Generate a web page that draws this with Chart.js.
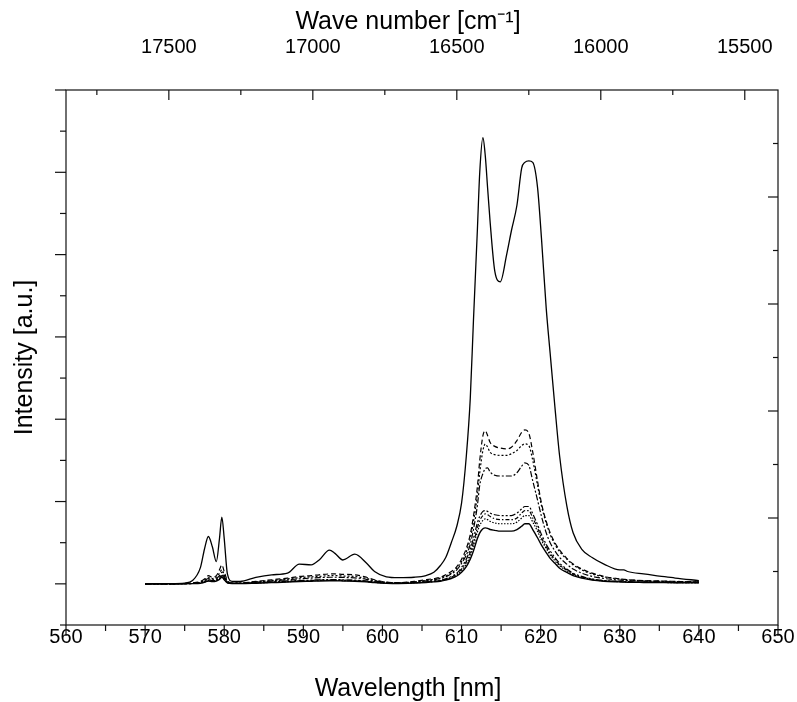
<!DOCTYPE html>
<html>
<head>
<meta charset="utf-8">
<script src="https://cdn.jsdelivr.net/npm/chart.js@4.4.1/dist/chart.umd.min.js"></script>
<style>
html,body{margin:0;padding:0;background:#fff;}
canvas{display:block;}
</style>
</head>
<body>
<canvas id="c" width="797" height="702"></canvas>
<script>
// ---- data ----
const wavelengths = [570,573,575,576,577,577.5,578,578.5,579,579.4,579.7,580,580.4,581,582,584,586,588,589.5,591,592,593.3,594,595,596.5,598,599,600.5,602,604,605.5,606.5,607.3,608,608.7,609.4,610,610.6,611.1,611.5,612,612.3,612.7,613,613.3,613.6,614.2,614.9,615.7,616.3,617,617.6,618,618.5,619,619.6,620.1,620.7,621.2,621.8,622.4,623.3,624.1,625.2,626.5,628,630,630.5,631,633,635,637,640];

const seriesS1 = [0,0.003,0.01,0.04,0.2,0.42,0.575,0.45,0.27,0.55,0.81,0.55,0.12,0.03,0.03,0.08,0.11,0.13,0.24,0.23,0.29,0.41,0.37,0.29,0.36,0.25,0.15,0.085,0.075,0.08,0.1,0.14,0.22,0.32,0.5,0.7,0.98,1.55,2.25,3.19,4.3,5.0,5.42,5.2,4.8,4.41,3.8,3.67,4.0,4.29,4.6,5.05,5.12,5.14,5.12,4.82,4.2,3.35,2.8,2.15,1.55,0.95,0.62,0.42,0.32,0.24,0.17,0.17,0.15,0.12,0.095,0.07,0.04];
const seriesD1 = [0,0,0.005,0.01,0.03,0.06,0.1,0.08,0.1,0.17,0.23,0.15,0.04,0.01,0.01,0.03,0.05,0.07,0.09,0.1,0.11,0.12,0.12,0.115,0.11,0.08,0.05,0.02,0.015,0.03,0.05,0.065,0.08,0.11,0.15,0.21,0.3,0.43,0.6,0.82,1.18,1.5,1.8,1.86,1.8,1.72,1.67,1.65,1.64,1.66,1.74,1.84,1.87,1.83,1.6,1.25,0.98,0.76,0.62,0.5,0.41,0.31,0.24,0.18,0.13,0.09,0.06,0.055,0.05,0.04,0.035,0.03,0.025];
const seriesD2 = [0,0,0.004,0.008,0.025,0.05,0.08,0.065,0.08,0.13,0.17,0.11,0.03,0.01,0.01,0.025,0.04,0.06,0.075,0.085,0.09,0.1,0.1,0.095,0.09,0.065,0.04,0.018,0.012,0.025,0.04,0.055,0.07,0.095,0.13,0.19,0.27,0.39,0.55,0.75,1.08,1.35,1.62,1.70,1.66,1.6,1.57,1.56,1.56,1.58,1.62,1.68,1.70,1.68,1.5,1.2,0.95,0.74,0.6,0.48,0.39,0.3,0.23,0.17,0.12,0.085,0.058,0.053,0.048,0.038,0.033,0.028,0.023];
const seriesD3 = [0,0,0.003,0.006,0.02,0.04,0.065,0.05,0.06,0.1,0.14,0.09,0.025,0.008,0.008,0.02,0.035,0.05,0.06,0.07,0.075,0.08,0.08,0.078,0.072,0.055,0.035,0.015,0.01,0.02,0.035,0.05,0.065,0.085,0.12,0.17,0.25,0.35,0.48,0.66,0.95,1.2,1.34,1.4,1.41,1.36,1.32,1.31,1.31,1.31,1.35,1.43,1.47,1.44,1.25,1.02,0.82,0.62,0.5,0.4,0.32,0.24,0.18,0.13,0.09,0.065,0.045,0.042,0.04,0.032,0.028,0.024,0.02];
const seriesL1 = [0,0,0.003,0.005,0.015,0.03,0.05,0.04,0.05,0.08,0.11,0.07,0.02,0.005,0.005,0.015,0.025,0.035,0.04,0.045,0.05,0.052,0.052,0.05,0.045,0.035,0.025,0.01,0.008,0.015,0.025,0.035,0.045,0.06,0.09,0.13,0.2,0.3,0.42,0.55,0.74,0.82,0.88,0.89,0.88,0.86,0.84,0.83,0.83,0.83,0.86,0.91,0.94,0.94,0.85,0.72,0.6,0.48,0.4,0.32,0.25,0.18,0.13,0.09,0.06,0.04,0.03,0.028,0.026,0.022,0.02,0.018,0.016];
const seriesL2 = [0,0,0.002,0.004,0.012,0.025,0.045,0.035,0.045,0.07,0.1,0.06,0.018,0.005,0.005,0.012,0.02,0.03,0.036,0.04,0.044,0.046,0.046,0.045,0.04,0.03,0.02,0.01,0.007,0.013,0.022,0.03,0.04,0.055,0.08,0.12,0.18,0.27,0.38,0.5,0.68,0.77,0.83,0.85,0.84,0.82,0.79,0.78,0.78,0.78,0.8,0.86,0.89,0.89,0.8,0.68,0.56,0.45,0.37,0.3,0.23,0.17,0.12,0.085,0.055,0.038,0.028,0.026,0.024,0.02,0.018,0.016,0.015];
const seriesL3 = [0,0,0.002,0.004,0.01,0.022,0.04,0.032,0.04,0.062,0.09,0.055,0.015,0.004,0.004,0.01,0.018,0.026,0.032,0.036,0.04,0.042,0.042,0.04,0.036,0.027,0.018,0.009,0.006,0.012,0.02,0.028,0.036,0.05,0.075,0.11,0.16,0.24,0.34,0.46,0.63,0.71,0.77,0.79,0.78,0.76,0.74,0.73,0.73,0.73,0.75,0.8,0.83,0.83,0.75,0.64,0.53,0.43,0.35,0.28,0.22,0.16,0.115,0.08,0.052,0.036,0.026,0.024,0.022,0.019,0.017,0.015,0.014];
const seriesL4 = [0,0,0.002,0.003,0.008,0.018,0.035,0.028,0.035,0.055,0.08,0.05,0.012,0.003,0.003,0.008,0.015,0.022,0.028,0.032,0.035,0.037,0.037,0.035,0.032,0.024,0.016,0.008,0.005,0.01,0.017,0.024,0.032,0.045,0.065,0.095,0.14,0.21,0.3,0.4,0.55,0.62,0.67,0.68,0.675,0.66,0.65,0.64,0.64,0.64,0.66,0.7,0.73,0.73,0.66,0.56,0.47,0.38,0.31,0.25,0.19,0.14,0.1,0.07,0.046,0.032,0.024,0.022,0.02,0.017,0.015,0.013,0.012];

// tick values
const wavelengthTicks = [560,570,580,590,600,610,620,630,640,650];
const wavelengthMinor = [565,575,585,595,605,615,625,635,645];
const waveNumberTicks = [17500,17000,16500,16000,15500];
const waveNumberMinor = [17750,17250,16750,16250,15750];
const intensityMajor = [0,1,2,3,4,5,6];
const intensityMinor = [-0.5,0.5,1.5,2.5,3.5,4.5,5.5];
const rightMajor = [1,2,3,4];
const rightMinor = [0.5,1.5,2.5,3.5,4.5];

const FONT = "'Liberation Sans', Arial, Helvetica, sans-serif";

function mk(vals, dash, w) {
  return {
    data: wavelengths.map((x, i) => ({x: x, y: vals[i]})),
    borderColor: '#000', borderWidth: w || 1.2, borderDash: dash || [],
    pointRadius: 0, fill: false, cubicInterpolationMode: 'monotone',
    xAxisID: 'x', yAxisID: 'y'
  };
}

const tickPlugin = {
  id: 'manualTicks',
  afterDraw(chart) {
    const ctx = chart.ctx, a = chart.chartArea;
    const sx = chart.scales.x, st = chart.scales.x2, sl = chart.scales.y, sr = chart.scales.y2;
    ctx.save();
    ctx.strokeStyle = '#111';
    ctx.lineWidth = 1.2;
    const line = (x1, y1, x2, y2) => { ctx.beginPath(); ctx.moveTo(x1, y1); ctx.lineTo(x2, y2); ctx.stroke(); };
    ctx.strokeRect(a.left, a.top, a.right - a.left, a.bottom - a.top);
    wavelengthTicks.forEach(v => { const p = sx.getPixelForValue(v); line(p, a.bottom, p, a.bottom + 11); });
    wavelengthMinor.forEach(v => { const p = sx.getPixelForValue(v); line(p, a.bottom, p, a.bottom + 6); });
    waveNumberTicks.forEach(v => { const p = st.getPixelForValue(v); line(p, a.top, p, a.top + 10); });
    waveNumberMinor.forEach(v => { const p = st.getPixelForValue(v); line(p, a.top, p, a.top + 5); });
    intensityMajor.forEach(v => { const p = sl.getPixelForValue(v); line(a.left - 11, p, a.left, p); });
    intensityMinor.forEach(v => { const p = sl.getPixelForValue(v); line(a.left - 6, p, a.left, p); });
    rightMajor.forEach(v => { const p = sr.getPixelForValue(v); line(a.right - 10, p, a.right, p); });
    rightMinor.forEach(v => { const p = sr.getPixelForValue(v); line(a.right - 5, p, a.right, p); });
    ctx.restore();
  }
};

new Chart(document.getElementById('c'), {
  type: 'line',
  data: {
    datasets: [
      mk(seriesL4, [], 1.4),
      mk(seriesL3, [1.5, 1.5]),
      mk(seriesL2, [4, 2, 1.5, 2]),
      mk(seriesL1, [6, 2, 2, 2, 2, 2]),
      mk(seriesD3, [6, 2, 2, 2]),
      mk(seriesD2, [2, 2]),
      mk(seriesD1, [5, 3]),
      mk(seriesS1, [], 1.3)
    ]
  },
  options: {
    responsive: false,
    animation: false,
    devicePixelRatio: 1,
    layout: {padding: {left: 19, right: 0, top: 0, bottom: 0}},
    plugins: {
      legend: {display: false},
      tooltip: {enabled: false},
      title: {display: true, text: 'Wave number [cm⁻¹]', position: 'top', fullSize: true, color: '#000',
              font: {family: FONT, size: 25, lineHeight: 1, weight: 'normal'}, padding: {top: 9.5, bottom: 0}},
      subtitle: {display: true, text: 'Wavelength [nm]', position: 'bottom', fullSize: true, color: '#000',
              font: {family: FONT, size: 25, lineHeight: 1, weight: 'normal'}, padding: {top: 0, bottom: 0}}
    },
    scales: {
      x: {
        type: 'linear', position: 'bottom', min: 560, max: 650,
        afterBuildTicks: s => { s.ticks = wavelengthTicks.map(v => ({value: v})); },
        afterFit: s => { s.height = 52; s.paddingLeft = 0; s.paddingRight = 0; },
        grid: {display: false, drawTicks: false},
        border: {display: false},
        ticks: {autoSkip: false, maxRotation: 0, padding: 0, color: '#000', font: {family: FONT, size: 20},
                callback: v => String(v)}
      },
      x2: {
        type: 'linear', position: 'top', min: 1e7 / 650, max: 1e7 / 560, reverse: true,
        afterBuildTicks: s => { s.ticks = waveNumberTicks.map(v => ({value: v})); },
        afterFit: s => { s.height = 55.5; s.paddingLeft = 0; s.paddingRight = 0; },
        grid: {display: false, drawTicks: false},
        border: {display: false},
        ticks: {autoSkip: false, maxRotation: 0, padding: 31, color: '#000', font: {family: FONT, size: 20},
                callback: v => String(v)}
      },
      y: {
        type: 'linear', position: 'left', min: -0.5, max: 6,
        afterFit: s => { s.width = 47; },
        grid: {display: false, drawTicks: false},
        border: {display: false},
        ticks: {display: false},
        title: {display: true, text: 'Intensity [a.u.]', color: '#000', font: {family: FONT, size: 25, lineHeight: 1}, padding: {top: -6.5, bottom: 0}}
      },
      y2: {
        type: 'linear', position: 'right', min: 0, max: 5,
        afterFit: s => { s.width = 19; },
        grid: {display: false, drawTicks: false},
        border: {display: false},
        ticks: {display: false}
      }
    }
  },
  plugins: [tickPlugin]
});
</script>
</body>
</html>
